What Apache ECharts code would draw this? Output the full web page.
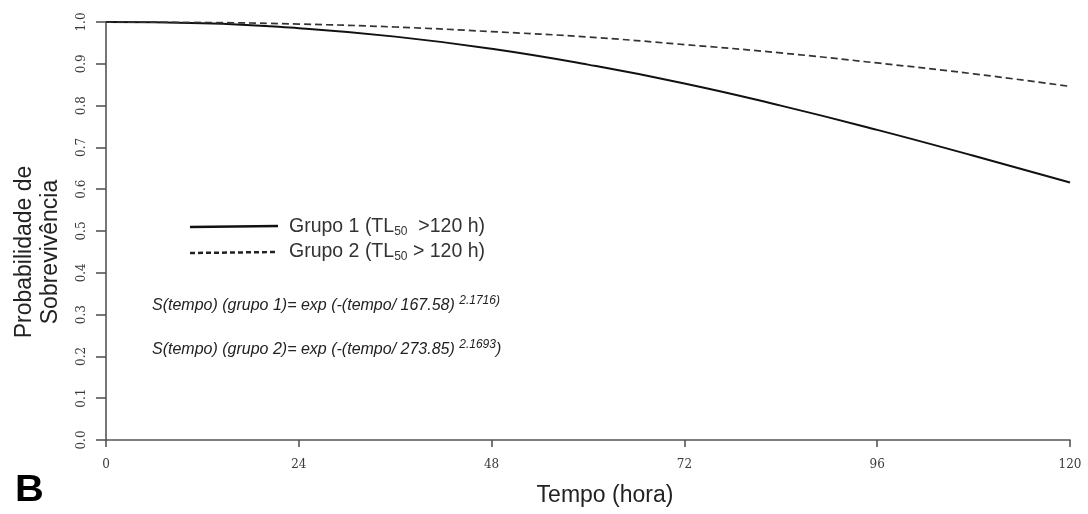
<!DOCTYPE html>
<html>
<head>
<meta charset="utf-8">
<script src="https://cdn.jsdelivr.net/npm/echarts@6/dist/echarts.min.js"></script>
<style>
html,body{margin:0;padding:0;background:#fff;}
#chart{width:1088px;height:514px;}
</style>
</head>
<body>
<div id="chart"></div>
<script>
// Data
const tempo = [0, 12, 24, 36, 48, 60, 72, 84, 96, 108, 120];
const grupo1 = [1.000, 0.997, 0.985, 0.965, 0.936, 0.898, 0.853, 0.800, 0.742, 0.680, 0.616];
const grupo2 = [1.000, 0.999, 0.995, 0.988, 0.977, 0.964, 0.946, 0.926, 0.902, 0.876, 0.846];
const xTicks = [0, 24, 48, 72, 96, 120];
const yTicks = [0.0, 0.1, 0.2, 0.3, 0.4, 0.5, 0.6, 0.7, 0.8, 0.9, 1.0];

const chart = echarts.init(document.getElementById('chart'), null, {renderer: 'canvas'});

const axisLineStyle = {color: '#555', width: 1.6};
const tickFont = {fontFamily: 'DejaVu Serif', fontSize: 12, color: '#3a3a3a'};

chart.setOption({
  animation: false,
  backgroundColor: '#fff',
  grid: {left: 106, right: 18, top: 22, bottom: 74},
  xAxis: {
    type: 'value', min: 0, max: 120, interval: 24,
    axisLine: {show: true, lineStyle: axisLineStyle},
    axisTick: {show: true, length: 7, lineStyle: axisLineStyle},
    splitLine: {show: false},
    axisLabel: Object.assign({margin: 19, formatter: v => xTicks.includes(v) ? String(v) : ''}, tickFont)
  },
  yAxis: {
    type: 'value', min: 0, max: 1, interval: 0.1,
    axisLine: {show: true, lineStyle: axisLineStyle},
    axisTick: {show: true, length: 10, lineStyle: axisLineStyle},
    splitLine: {show: false},
    axisLabel: Object.assign({margin: 18, rotate: 90, formatter: v => {
      const t = yTicks.find(y => Math.abs(y - v) < 1e-6);
      return t === undefined ? '' : t.toFixed(1);
    }}, tickFont)
  },
  series: [
    {
      name: 'Grupo 1', type: 'line', smooth: true, showSymbol: false,
      data: tempo.map((t, i) => [t, grupo1[i]]),
      lineStyle: {color: '#111', width: 2}
    },
    {
      name: 'Grupo 2', type: 'line', smooth: true, showSymbol: false,
      data: tempo.map((t, i) => [t, grupo2[i]]),
      lineStyle: {color: '#333', width: 1.7, type: [7, 4]}
    }
  ],
  graphic: [
    // y-axis title
    {type: 'text', x: 38, y: 252, rotation: Math.PI / 2,
     style: {text: 'Probabilidade de\nSobrevivência', font: '23px "Liberation Sans"', fill: '#222',
             align: 'center', verticalAlign: 'middle', lineHeight: 26}},
    // x-axis title
    {type: 'text', x: 605, y: 496,
     style: {text: 'Tempo (hora)', font: '23px "Liberation Sans"', fill: '#222', align: 'center', verticalAlign: 'middle'}},
    // panel letter
    {type: 'text', x: 15, y: 491, scaleX: 1.08,
     style: {text: 'B', font: 'bold 37px "Liberation Sans"', fill: '#000', align: 'left', verticalAlign: 'middle'}},
    // legend
    {type: 'line', shape: {x1: 190, y1: 227, x2: 278, y2: 226}, style: {stroke: '#111', lineWidth: 2.5}},
    {type: 'line', shape: {x1: 190, y1: 253, x2: 278, y2: 252}, style: {stroke: '#222', lineWidth: 2.5, lineDash: [5, 3]}},
    {type: 'text', x: 289, y: 227,
     style: {text: '{a|Grupo 1 (TL}{s|50}{a|  >120 h)}', align: 'left', verticalAlign: 'middle',
             rich: {a: {font: '19.5px "Liberation Sans"', fill: '#333'}, s: {font: '12px "Liberation Sans"', fill: '#333', padding: [9, 0, 0, 0]}}}},
    {type: 'text', x: 289, y: 252,
     style: {text: '{a|Grupo 2 (TL}{s|50}{a| > 120 h)}', align: 'left', verticalAlign: 'middle',
             rich: {a: {font: '19.5px "Liberation Sans"', fill: '#333'}, s: {font: '12px "Liberation Sans"', fill: '#333', padding: [9, 0, 0, 0]}}}},
    // equations
    {type: 'text', x: 152, y: 306,
     style: {text: '{a|S(tempo) (grupo 1)= exp (-(tempo/ 167.58) }{b|2.1716)}', align: 'left', verticalAlign: 'middle',
             rich: {a: {font: 'italic 16px "Liberation Sans"', fill: '#222'}, b: {font: 'italic 12px "Liberation Sans"', fill: '#222', padding: [0, 0, 11, 0]}}}},
    {type: 'text', x: 152, y: 350,
     style: {text: '{a|S(tempo) (grupo 2)= exp (-(tempo/ 273.85) }{b|2.1693}{a|)}', align: 'left', verticalAlign: 'middle',
             rich: {a: {font: 'italic 16px "Liberation Sans"', fill: '#222'}, b: {font: 'italic 12px "Liberation Sans"', fill: '#222', padding: [0, 0, 11, 0]}}}}
  ]
});
</script>
</body>
</html>
